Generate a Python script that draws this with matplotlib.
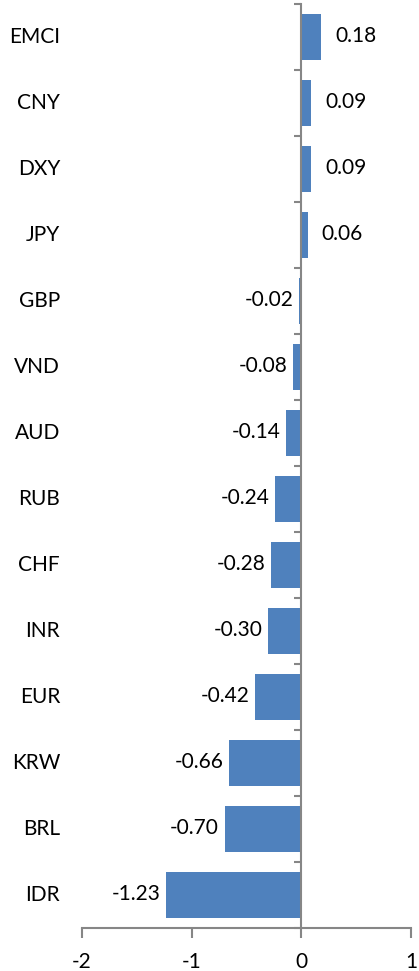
import numpy as np
import matplotlib.pyplot as plt

currencies = ['EMCI', 'CNY', 'DXY', 'JPY', 'GBP', 'VND', 'AUD', 'RUB',
              'CHF', 'INR', 'EUR', 'KRW', 'BRL', 'IDR']
changes = [0.18, 0.09, 0.09, 0.06, -0.02, -0.08, -0.14, -0.24,
           -0.28, -0.30, -0.42, -0.66, -0.70, -1.23]
x_ticks = [-2, -1, 0, 1]

plt.rcParams['font.family'] = ['Lato', 'DejaVu Sans']
fs = 15
axis_gray = '#868686'

fig = plt.figure(figsize=(4.19, 9.71), dpi=100)
ax = fig.add_axes([82 / 419, 1 - 928 / 971, (411 - 82) / 419, (928 - 4) / 971])

pos = np.arange(len(currencies))
ax.barh(pos, changes, height=0.71, color='#4F81BD', zorder=2)

ax.set_xlim(-2, 1)
ax.set_ylim(len(currencies) - 0.5, -0.5)

for y, v, name in zip(pos, changes, currencies):
    if v >= 0:
        ax.annotate(f'{v:.2f}', (v, y), xytext=(10, 1), textcoords='offset points',
                    ha='left', va='center', fontsize=fs)
    else:
        ax.annotate(f'{v:.2f}', (v, y), xytext=(-4, 1), textcoords='offset points',
                    ha='right', va='center', fontsize=fs)
    ax.text(-2.2, y, name, ha='right', va='center', fontsize=fs, clip_on=False)

# y axis sits at zero with small ticks between categories
for s in ['top', 'right']:
    ax.spines[s].set_visible(False)
ax.spines['left'].set_position(('data', 0))
for s in ['left', 'bottom']:
    ax.spines[s].set_color(axis_gray)
    ax.spines[s].set_linewidth(1.5)

ax.set_yticks(np.arange(len(currencies) + 1) - 0.5)
ax.set_yticklabels([])
ax.tick_params(axis='y', direction='out', length=5, width=1.5, color=axis_gray)

ax.set_xticks(x_ticks)
ax.set_xticklabels([str(t) for t in x_ticks], fontsize=fs)
ax.tick_params(axis='x', direction='out', length=7, width=1.5, color=axis_gray, pad=10)

fig.savefig('out.png', dpi=100)
